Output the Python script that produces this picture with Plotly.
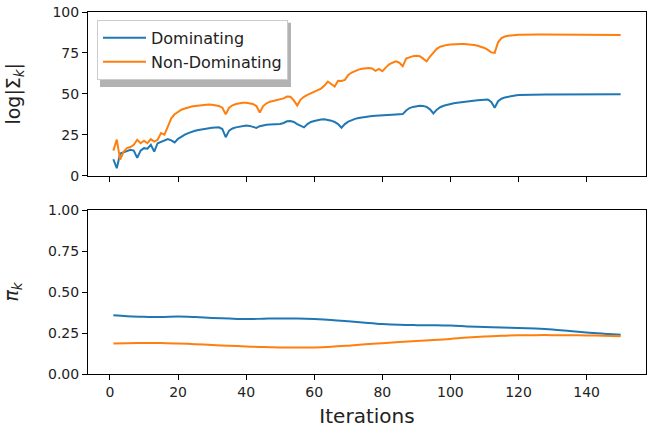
import plotly.graph_objects as go
from plotly.subplots import make_subplots

iterations = list(range(1, 151))

dominating_logdet = [
    10.0, 4.5, 13.5, 14.5, 15.0, 15.8, 15.3, 10.8, 15.3, 16.8,
    16.5, 18.8, 14.7, 19.8, 20.8, 21.8, 22.3, 21.5, 20.3, 22.5,
    23.9, 25.0, 26.0, 26.8, 27.4, 27.9, 28.3, 28.7, 29.0, 29.2,
    29.4, 29.5, 28.5, 23.5, 27.5, 28.8, 29.5, 30.0, 30.4, 30.6,
    30.4, 29.8, 29.2, 30.2, 30.8, 31.1, 31.3, 31.4, 31.5, 31.6,
    32.2, 33.2, 33.4, 32.8, 31.5, 30.5, 29.5, 31.5, 32.8, 33.4,
    34.0, 34.3, 34.4, 34.2, 33.6, 32.8, 31.5, 29.3, 31.5, 33.0,
    34.0, 34.7, 35.2, 35.6, 35.9, 36.2, 36.4, 36.6, 36.8, 36.9,
    37.1, 37.2, 37.3, 37.4, 37.5, 37.6, 39.8, 41.3, 42.0, 42.5,
    42.7, 42.6, 42.0, 40.5, 38.0, 40.3, 41.8, 42.7, 43.3, 43.8,
    44.2, 44.6, 44.9, 45.2, 45.4, 45.6, 45.8, 46.0, 46.2, 46.4,
    46.5, 45.0, 41.5, 45.5, 47.0, 47.8, 48.3, 48.7, 49.0, 49.2,
    49.3, 49.4, 49.4, 49.5, 49.5, 49.5, 49.6, 49.6, 49.6, 49.6,
    49.7, 49.7, 49.7, 49.7, 49.7, 49.7, 49.7, 49.8, 49.8, 49.8,
    49.8, 49.8, 49.8, 49.8, 49.8, 49.8, 49.8, 49.8, 49.8, 49.8,
]

nondominating_logdet = [
    15.3, 22.0, 9.8, 14.5, 16.8, 17.5, 18.8, 21.9, 19.8, 21.3,
    19.8, 22.3, 20.8, 21.9, 26.0, 25.0, 30.0, 35.0, 37.5, 39.0,
    40.3, 41.0, 41.7, 42.2, 42.6, 42.9, 43.1, 43.3, 43.4, 43.3,
    43.0, 42.5, 41.5, 37.5, 41.5, 43.0, 43.8, 44.3, 44.5, 44.6,
    44.4, 43.8, 42.5, 38.6, 42.5, 44.2, 45.2, 45.8, 46.3, 46.7,
    47.2, 48.3, 48.2, 46.0, 42.8, 46.5, 48.2, 49.3, 50.3, 51.3,
    52.3, 53.2, 55.0, 57.5, 56.0, 54.5, 58.0, 57.8, 58.5, 61.5,
    63.0, 64.0, 64.8, 65.3, 65.6, 65.8, 65.5, 64.0, 65.2, 63.8,
    66.0, 68.0, 69.0, 69.8, 69.0, 66.8, 71.5, 72.5, 73.0, 73.3,
    73.0, 71.5, 69.8, 72.8, 75.5, 77.5, 78.8, 79.5, 79.9, 80.2,
    80.4, 80.5, 80.5, 80.4, 80.3, 80.1, 79.8, 79.4, 78.8, 78.0,
    76.8, 75.3, 75.0, 81.5, 84.0, 85.0, 85.5, 85.8, 86.0, 86.1,
    86.1, 86.2, 86.2, 86.2, 86.2, 86.2, 86.2, 86.2, 86.2, 86.2,
    86.2, 86.2, 86.2, 86.2, 86.2, 86.1, 86.1, 86.1, 86.1, 86.1,
    86.0, 86.0, 86.0, 86.0, 86.0, 85.9, 85.9, 85.9, 85.9, 85.9,
]

pi_iterations = [1, 5, 10, 15, 20, 25, 30, 35, 40, 45, 50, 55, 60, 65, 70, 75,
                 80, 85, 90, 95, 100, 105, 110, 115, 120, 125, 130, 135, 140, 145, 150]

dominating_pi = [0.358, 0.352, 0.349, 0.347, 0.350, 0.347, 0.342, 0.338, 0.335, 0.337,
                 0.339, 0.338, 0.335, 0.330, 0.322, 0.313, 0.305, 0.300, 0.298, 0.297,
                 0.295, 0.290, 0.286, 0.283, 0.281, 0.277, 0.271, 0.262, 0.253, 0.246, 0.240]

nondominating_pi = [0.186, 0.187, 0.189, 0.189, 0.186, 0.182, 0.177, 0.172, 0.168, 0.164,
                    0.162, 0.161, 0.162, 0.166, 0.173, 0.181, 0.188, 0.195, 0.201, 0.207,
                    0.214, 0.222, 0.228, 0.233, 0.236, 0.237, 0.237, 0.236, 0.235, 0.233, 0.230]

series_names = ["Dominating", "Non-Dominating"]
x_ticks = [0, 20, 40, 60, 80, 100, 120, 140]
top_ticks = [0, 25, 50, 75, 100]
bottom_ticks = [0.0, 0.25, 0.5, 0.75, 1.0]

BLUE = "#1f77b4"
ORANGE = "#ff7f0e"
FONT = "DejaVu Sans"

fig = make_subplots(rows=2, cols=1, shared_xaxes=False, vertical_spacing=0.09)

fig.add_trace(go.Scatter(x=iterations, y=dominating_logdet, mode="lines", name=series_names[0],
                         line=dict(color=BLUE, width=2)), row=1, col=1)
fig.add_trace(go.Scatter(x=iterations, y=nondominating_logdet, mode="lines", name=series_names[1],
                         line=dict(color=ORANGE, width=2)), row=1, col=1)
fig.add_trace(go.Scatter(x=pi_iterations, y=dominating_pi, mode="lines", showlegend=False,
                         line=dict(color=BLUE, width=2, shape="spline")), row=2, col=1)
fig.add_trace(go.Scatter(x=pi_iterations, y=nondominating_pi, mode="lines", showlegend=False,
                         line=dict(color=ORANGE, width=2, shape="spline")), row=2, col=1)

axis_common = dict(showline=True, mirror=True, linecolor="black", linewidth=1,
                   ticks="outside", ticklen=5, tickwidth=1, tickcolor="black",
                   showgrid=False, zeroline=False,
                   tickfont=dict(family=FONT, size=14, color="#222"))

xr = [-6.45, 157.45]
fig.update_layout(
    xaxis=dict(domain=[0, 1], range=xr, tickvals=x_ticks, showticklabels=False, anchor="y", **axis_common),
    yaxis=dict(domain=[0.548, 1.0], range=[0, 100], tickvals=top_ticks, anchor="x",
               title=dict(text="log|Σ<sub><i>k</i></sub>|", font=dict(family=FONT, size=19, color="#222"), standoff=26),
               **axis_common),
    xaxis2=dict(domain=[0, 1], range=xr, tickvals=x_ticks, anchor="y2",
                title=dict(text="Iterations", font=dict(family=FONT, size=20, color="#222"), standoff=10),
                **axis_common),
    yaxis2=dict(domain=[0.0, 0.453], range=[0, 1], tickvals=bottom_ticks, tickformat=".2f", anchor="x2",
                title=dict(text="<i>π<sub>k</sub></i>", font=dict(family=FONT, size=19, color="#222"), standoff=25),
                **axis_common),
)

fig.update_layout(
    width=656, height=432,
    margin=dict(l=88, r=10, t=12, b=58, autoexpand=False),
    paper_bgcolor="white", plot_bgcolor="white",
    legend=dict(x=0.0161, y=0.978, xanchor="left", yanchor="top",
                bgcolor="white", bordercolor="#cccccc", borderwidth=1,
                font=dict(family=FONT, size=16, color="#222"),
                itemwidth=43, tracegroupgap=0),
    shapes=[dict(type="rect", xref="paper", yref="paper",
                 x0=0.0215, x1=0.3638, y0=0.793, y1=0.970,
                 fillcolor="rgba(0,0,0,0.3)", line=dict(width=0), layer="above")],
)

fig.write_html("out.html", config={"displayModeBar": False},
               post_script="document.body.style.margin='0';")
